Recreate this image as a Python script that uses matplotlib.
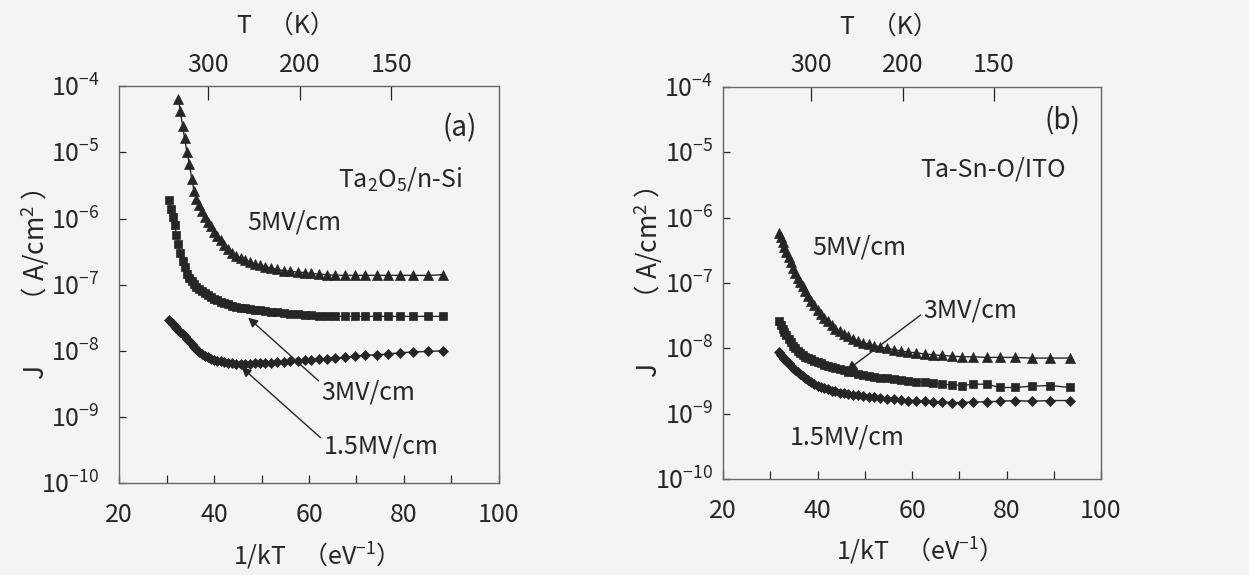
import numpy as np
import matplotlib
matplotlib.use('Agg')
import matplotlib.pyplot as plt
from matplotlib.ticker import FixedLocator, MultipleLocator, FuncFormatter

FONT = 'Noto Sans CJK JP'
plt.rcParams['font.family'] = [FONT, 'DejaVu Sans']
plt.rcParams['mathtext.fontset'] = 'custom'
plt.rcParams['mathtext.rm'] = FONT
plt.rcParams['mathtext.it'] = FONT
plt.rcParams['mathtext.default'] = 'regular'

K_B = 8.617e-5  # eV/K
INK = '#262626'
PAPER = '#f4f4f2'

# ---- panel (a): Ta2O5/n-Si, 1/kT in eV^-1, log10 of J in A/cm^2 ----
x_a = [30.5, 30.9, 31.3, 31.7, 32.1, 32.5, 32.9, 33.4, 33.8, 34.3, 34.8, 35.3, 35.8,
       36.3, 36.9, 37.4, 38.0, 38.7, 39.3, 40.0, 40.7, 41.4, 42.2, 43.0, 43.8, 44.7,
       45.6, 46.5, 47.5, 48.6, 49.7, 50.8, 52.0, 53.3, 54.7, 56.1, 57.6, 59.2, 60.4,
       62.0, 63.7, 65.5, 67.6, 69.7, 71.8, 74.3, 76.7, 79.2, 81.9, 85.1, 88.3]
logj_a_5mv = [-4.2, -4.38, -4.6, -4.78, -5.0, -5.17, -5.4, -5.58, -5.7, -5.8, -5.88,
              -5.97, -6.05, -6.12, -6.2, -6.26, -6.33, -6.4, -6.46, -6.52, -6.56, -6.6,
              -6.63, -6.66, -6.69, -6.71, -6.73, -6.75, -6.77, -6.79, -6.8, -6.81, -6.82,
              -6.83, -6.84, -6.85, -6.86, -6.86, -6.86, -6.86, -6.86, -6.86, -6.86,
              -6.86, -6.86, -6.85]
logj_a_3mv = [-5.72, -5.85, -5.97, -6.1, -6.25, -6.38, -6.52, -6.65, -6.73, -6.84, -6.9,
              -6.95, -6.99, -7.03, -7.07, -7.1, -7.13, -7.16, -7.19, -7.22, -7.24, -7.26,
              -7.28, -7.3, -7.32, -7.34, -7.35, -7.36, -7.37, -7.38, -7.39, -7.4, -7.41,
              -7.42, -7.43, -7.44, -7.45, -7.46, -7.46, -7.47, -7.47, -7.48, -7.48, -7.48,
              -7.48, -7.48, -7.48, -7.48, -7.48, -7.48, -7.48]
logj_a_15mv = [-7.53, -7.56, -7.59, -7.62, -7.65, -7.68, -7.71, -7.75, -7.78, -7.82, -7.86,
               -7.9, -7.94, -7.98, -8.02, -8.05, -8.08, -8.1, -8.12, -8.14, -8.15, -8.16,
               -8.17, -8.18, -8.19, -8.2, -8.2, -8.2, -8.2, -8.19, -8.19, -8.18, -8.18,
               -8.17, -8.17, -8.16, -8.15, -8.14, -8.14, -8.13, -8.12, -8.11, -8.1, -8.08,
               -8.07, -8.06, -8.05, -8.03, -8.02, -8.01, -8.0]

# ---- panel (b): Ta-Sn-O/ITO ----
x_b = [31.8, 32.2, 32.6, 33.0, 33.4, 33.9, 34.3, 34.8, 35.3, 35.8, 36.3, 36.9, 37.4,
       38.0, 38.7, 39.3, 40.0, 40.7, 41.4, 42.2, 43.0, 43.8, 44.7, 45.6, 46.5, 47.5,
       48.6, 49.7, 50.8, 52.0, 53.3, 54.7, 56.1, 57.6, 59.2, 60.9, 62.7, 64.5, 66.3,
       68.4, 70.5, 73.0, 75.8, 78.6, 81.8, 85.3, 89.2, 93.4]
logj_b_5mv = [-6.23, -6.3, -6.37, -6.45, -6.52, -6.6, -6.68, -6.77, -6.85, -6.92, -6.98,
              -7.05, -7.12, -7.2, -7.28, -7.34, -7.41, -7.47, -7.53, -7.59, -7.65, -7.7,
              -7.74, -7.78, -7.82, -7.86, -7.89, -7.92, -7.94, -7.96, -7.98, -8.0, -8.02,
              -8.04, -8.06, -8.07, -8.09, -8.1, -8.11, -8.12, -8.13, -8.13, -8.14, -8.14,
              -8.14, -8.15, -8.15, -8.15]
logj_b_3mv = [-7.58, -7.64, -7.7, -7.75, -7.8, -7.86, -7.91, -7.96, -8.0, -8.04, -8.07,
              -8.1, -8.13, -8.15, -8.17, -8.19, -8.21, -8.23, -8.25, -8.27, -8.29, -8.3,
              -8.32, -8.34, -8.36, -8.37, -8.39, -8.41, -8.43, -8.44, -8.45, -8.46, -8.47,
              -8.48, -8.5, -8.51, -8.52, -8.53, -8.55, -8.56, -8.57, -8.55, -8.55, -8.6,
              -8.6, -8.58, -8.57, -8.6]
logj_b_15mv = [-8.06, -8.1, -8.13, -8.16, -8.19, -8.23, -8.27, -8.3, -8.34, -8.37, -8.4,
               -8.43, -8.46, -8.49, -8.52, -8.54, -8.57, -8.59, -8.61, -8.63, -8.65, -8.66,
               -8.68, -8.69, -8.7, -8.71, -8.72, -8.73, -8.74, -8.75, -8.76, -8.77, -8.78,
               -8.79, -8.8, -8.8, -8.81, -8.82, -8.82, -8.83, -8.83, -8.82, -8.82, -8.81,
               -8.8, -8.81, -8.8, -8.8]

temp_ticks = [300, 200, 150]


def inv_kt(v):
    v = np.asarray(v, dtype=float)
    with np.errstate(divide='ignore', invalid='ignore'):
        return 1.0 / (K_B * v)


def setup_axes(ax, ypad, ylabel_x, xlabel_y):
    ax.set_facecolor(PAPER)
    ax.set_xlim(20, 100)
    ax.set_yscale('log')
    ax.set_ylim(1e-10, 1e-4)
    ax.xaxis.set_major_locator(MultipleLocator(20))
    ax.xaxis.set_minor_locator(MultipleLocator(10))
    ax.yaxis.set_major_locator(FixedLocator([10.0 ** e for e in range(-10, -3)]))
    ax.yaxis.set_minor_locator(FixedLocator([]))
    ax.yaxis.set_major_formatter(FuncFormatter(lambda v, p: r'$10^{%d}$' % round(np.log10(v))))
    ax.tick_params(axis='x', which='both', direction='in', length=6, width=0.9,
                   colors=INK, labelsize=18, pad=14, top=False)
    ax.tick_params(axis='y', which='both', direction='in', length=5, width=0.9,
                   colors=INK, labelsize=18, pad=ypad, right=False)
    for s in ax.spines.values():
        s.set_color('#666666')
        s.set_linewidth(1.0)
    ax.set_xlabel('1/kT   （eV$^{-1}$）', fontsize=18, color=INK)
    ax.xaxis.set_label_coords(0.5, xlabel_y)
    ax.set_ylabel('J\u3000\u3000（ A/cm$^2$ ）', fontsize=19, color=INK)
    ax.yaxis.set_label_coords(ylabel_x, 0.5)

    top = ax.secondary_xaxis('top', functions=(inv_kt, inv_kt))
    top.set_xticks(temp_ticks)
    top.set_xticklabels([str(t) for t in temp_ticks])
    top.tick_params(direction='in', length=10, width=0.9, colors=INK, labelsize=18, pad=6)
    top.spines['top'].set_visible(False)
    ax.text(0.44, 1.12, 'T   （K）', transform=ax.transAxes, fontsize=18,
            color=INK, ha='center', va='bottom')


def draw_series(ax, x, logj, marker, ms):
    ax.plot(x, 10.0 ** np.array(logj), color=INK, lw=1.0, marker=marker, ms=ms,
            mfc=INK, mec=INK, mew=0.5)


fig = plt.figure(figsize=(12.49, 5.75), dpi=100, facecolor=PAPER)

ax_a = fig.add_axes([0.0953, 0.160, 0.3042, 0.690])
setup_axes(ax_a, 14, -0.176, -0.145)
draw_series(ax_a, x_a[5:], logj_a_5mv, '^', 6.5)
draw_series(ax_a, x_a, logj_a_3mv, 's', 6)
draw_series(ax_a, x_a, logj_a_15mv, 'D', 5)
ax_a.text(95.4, 10 ** -4.64, '(a)', fontsize=20, color=INK, ha='right', va='center')
ax_a.text(66.1, 10 ** -5.41, r'Ta$_2$O$_5$/n-Si', fontsize=18, color=INK, ha='left', va='center')
ax_a.text(46.9, 10 ** -6.06, '5MV/cm', fontsize=18, color=INK, ha='left', va='center')
ax_a.annotate('3MV/cm', xy=(47.2, 10 ** -7.50), xytext=(62.6, 10 ** -8.63),
              fontsize=18, color=INK, ha='left', va='center',
              arrowprops=dict(arrowstyle='-|>', color=INK, lw=1.0, mutation_scale=14,
                              shrinkA=0, shrinkB=0, relpos=(0.0, 0.85)))
ax_a.annotate('1.5MV/cm', xy=(45.8, 10 ** -8.25), xytext=(63.0, 10 ** -9.45),
              fontsize=18, color=INK, ha='left', va='center',
              arrowprops=dict(arrowstyle='-|>', color=INK, lw=1.0, mutation_scale=14,
                              shrinkA=0, shrinkB=0, relpos=(0.0, 0.75)))

ax_b = fig.add_axes([0.5789, 0.167, 0.3026, 0.682])
setup_axes(ax_b, 7, -0.154, -0.145)
draw_series(ax_b, x_b, logj_b_5mv, '^', 6.5)
draw_series(ax_b, x_b, logj_b_3mv, 's', 6)
draw_series(ax_b, x_b, logj_b_15mv, 'D', 5)
ax_b.text(95.6, 10 ** -4.53, '(b)', fontsize=20, color=INK, ha='right', va='center')
ax_b.text(61.7, 10 ** -5.26, 'Ta-Sn-O/ITO', fontsize=18, color=INK, ha='left', va='center')
ax_b.text(38.8, 10 ** -6.46, '5MV/cm', fontsize=18, color=INK, ha='left', va='center')
ax_b.annotate('3MV/cm', xy=(46.2, 10 ** -8.34), xytext=(62.4, 10 ** -7.42),
              fontsize=18, color=INK, ha='left', va='center',
              arrowprops=dict(arrowstyle='-|>', color=INK, lw=1.0, mutation_scale=14,
                              shrinkA=0, shrinkB=0, relpos=(0.0, 0.4)))
ax_b.text(34.2, 10 ** -9.36, '1.5MV/cm', fontsize=18, color=INK, ha='left', va='center')

fig.savefig('out.png', dpi=100, facecolor=PAPER)
